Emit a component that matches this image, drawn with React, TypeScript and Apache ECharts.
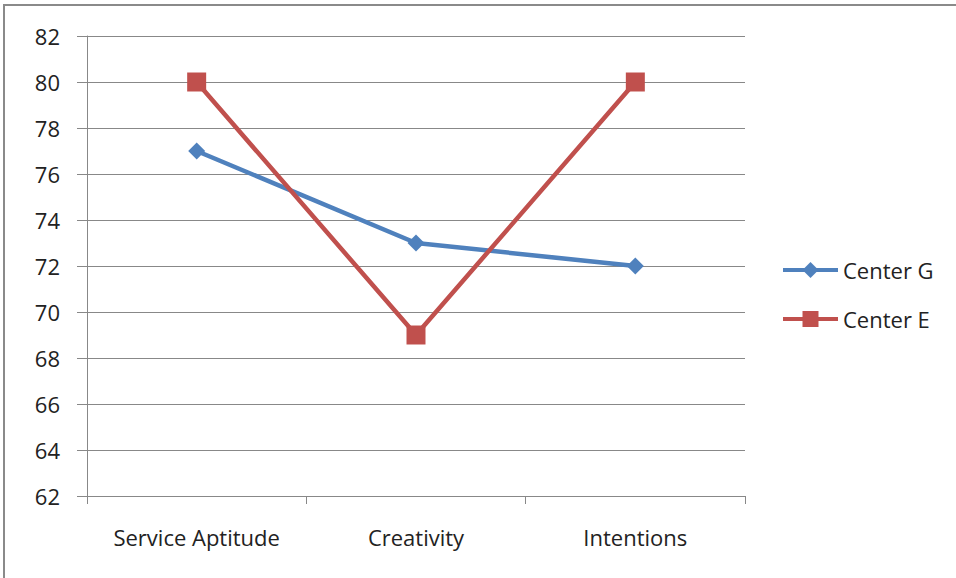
import React, { useEffect, useRef } from "react";
import * as echarts from "echarts";

const categories = ["Service Aptitude", "Creativity", "Intentions"];
const centerG = [77, 73, 72];
const centerE = [80, 69, 80];
const seriesNames = ["Center G", "Center E"];

export default function App() {
  const ref = useRef<HTMLDivElement>(null);
  useEffect(() => {
    const chart = echarts.init(ref.current!, null, { renderer: "svg" });
    const font = "'Open Sans', sans-serif";
    chart.setOption({
      animation: false,
      backgroundColor: "#ffffff",
      textStyle: { fontFamily: font },
      graphic: [
        {
          type: "rect",
          shape: { x: 4, y: 5, width: 1000, height: 600 },
          style: { fill: "none", stroke: "#8a8a8a", lineWidth: 2 },
          silent: true,
        },
      ],
      grid: { left: 87, right: 211, top: 36, bottom: 82 },
      legend: {
        orient: "vertical",
        left: 776,
        top: 254,
        itemWidth: 55,
        itemHeight: 20,
        itemGap: 27,
        lineStyle: { width: 4 },
        textStyle: { fontSize: 22, color: "#222", fontFamily: font },
        data: seriesNames,
      },
      xAxis: {
        type: "category",
        data: categories,
        boundaryGap: true,
        axisLine: { lineStyle: { color: "#888", width: 1 } },
        axisTick: { show: true, length: 8, lineStyle: { color: "#888" } },
        axisLabel: { fontSize: 22, color: "#222", margin: 30, fontFamily: font },
      },
      yAxis: {
        type: "value",
        min: 62,
        max: 82,
        interval: 2,
        axisLine: { show: true, lineStyle: { color: "#888", width: 1 } },
        axisTick: { show: true, length: 10, lineStyle: { color: "#888" } },
        axisLabel: { fontSize: 22, color: "#222", margin: 27, fontFamily: font },
        splitLine: { show: true, lineStyle: { color: "#888", width: 1 } },
      },
      series: [
        {
          name: seriesNames[0],
          type: "line",
          data: centerG,
          symbol: "diamond",
          symbolSize: 17,
          itemStyle: { color: "#4F81BD" },
          lineStyle: { color: "#4F81BD", width: 4.5 },
        },
        {
          name: seriesNames[1],
          type: "line",
          data: centerE,
          symbol: "rect",
          symbolSize: 19,
          itemStyle: { color: "#C0504D" },
          lineStyle: { color: "#C0504D", width: 4.5 },
        },
      ],
    });
    return () => chart.dispose();
  }, []);
  return (
    <div
      ref={ref}
      style={{ position: "absolute", left: 0, top: 0, width: 956, height: 578 }}
    />
  );
}
